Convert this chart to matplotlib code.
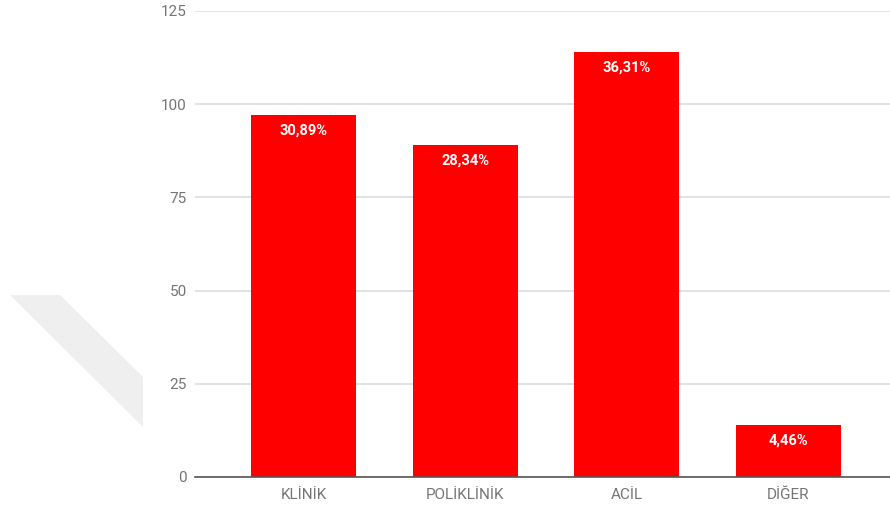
import matplotlib.pyplot as plt
from matplotlib.patches import Polygon

categories = ["KLİNİK", "POLİKLİNİK", "ACİL", "DİĞER"]
counts = [97, 89, 114, 14]
percent_labels = ["30,89%", "28,34%", "36,31%", "4,46%"]
yticks = [0, 25, 50, 75, 100, 125]

plt.rcParams['font.family'] = ['Roboto', 'DejaVu Sans']

fig = plt.figure(figsize=(8.9, 5.12), dpi=100)
ax = fig.add_axes([195 / 890, 35 / 512, 695 / 890, 466 / 512])

# faint watermark shape on the left
wm = Polygon([(10, 512 - 295), (60, 512 - 295), (143, 512 - 377), (143, 512 - 427)],
             closed=True, transform=None, facecolor="#efefef", edgecolor="none", zorder=0)
fig.patches.append(wm)

x = range(len(categories))
bars = ax.bar(x, counts, width=0.65, color="#ff0000", zorder=3)

for b, lab in zip(bars, percent_labels):
    ax.annotate(lab, (b.get_x() + b.get_width() / 2, b.get_height()),
                xytext=(0, -11), textcoords="offset points", ha="center", va="center",
                color="white", fontsize=10.5, fontweight="bold", fontstretch="condensed",
                zorder=4)

ax.set_ylim(0, 125)
ax.set_xlim(-0.672, 3.63)
ax.set_yticks(yticks)
ax.set_xticks(list(x))
ax.set_xticklabels(categories)
ax.tick_params(axis="both", length=0, colors="#757575", labelsize=11)
ax.tick_params(axis="y", pad=6)
ax.tick_params(axis="x", pad=8)
ax.yaxis.grid(True, color="#dddddd", linewidth=1.2, zorder=0)
for s in ["top", "right", "left"]:
    ax.spines[s].set_visible(False)
ax.spines["bottom"].set_color("#555555")
ax.spines["bottom"].set_linewidth(1.2)
ax.spines["bottom"].set_zorder(5)

fig.savefig("out.png", dpi=100)
